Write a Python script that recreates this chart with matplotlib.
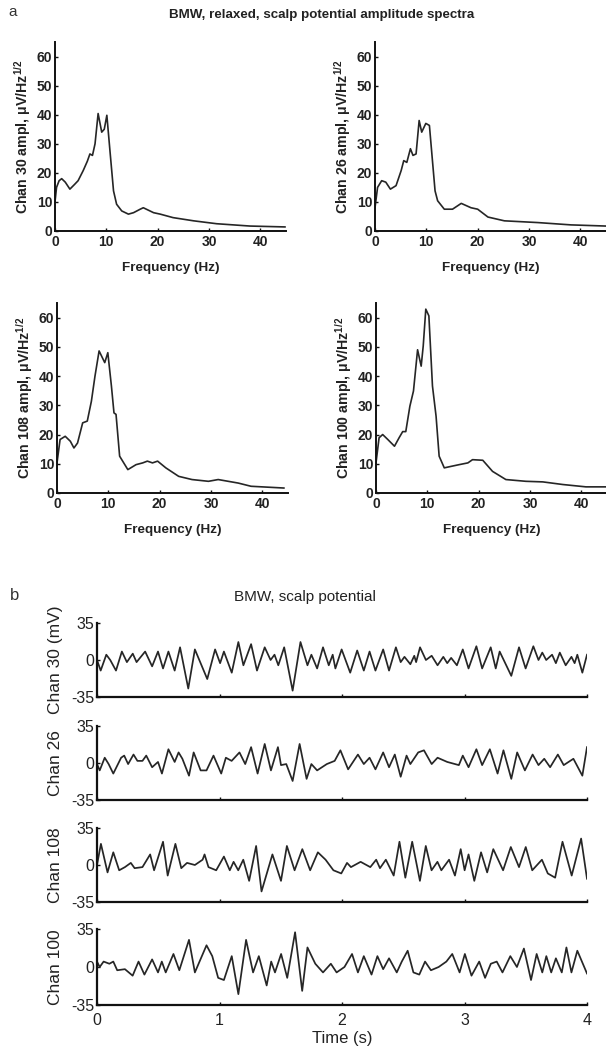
import numpy as np
import matplotlib
matplotlib.use("Agg")
import matplotlib.pyplot as plt

plt.rcParams["font.family"] = ["Liberation Sans", "DejaVu Sans"]
plt.rcParams["mathtext.fontset"] = "custom"
plt.rcParams["mathtext.rm"] = "Liberation Sans:bold"
plt.rcParams["mathtext.default"] = "rm"
plt.rcParams["axes.unicode_minus"] = False

W, H = 606, 1048
LINE = "#262626"

# ---- panel a: amplitude spectra (frequency in Hz, amplitude in uV/Hz^1/2)
spec_titles = ["30", "26", "108", "100"]

freq_30 = [0.0, 0.3, 0.8, 1.3, 2.0, 2.9, 3.8, 4.5, 5.5, 6.3, 6.8, 7.3, 7.8, 8.4, 9.1, 9.6, 10.1,
           10.7, 11.4, 12.0, 13.0, 14.3, 15.3, 16.6, 17.2, 19.2, 20.5, 23.0, 27.0, 31.5, 38.0, 44.8]
ampl_30 = [10.0, 15.0, 17.3, 18.0, 16.8, 14.4, 16.0, 17.3, 20.8, 24.0, 26.5, 26.0, 30.0, 40.4, 34.0, 35.0, 39.8,
           27.7, 13.8, 9.2, 6.9, 5.8, 6.3, 7.5, 8.0, 6.3, 5.8, 4.6, 3.5, 2.5, 1.7, 1.4]

freq_26 = [0.0, 0.5, 1.3, 2.1, 3.0, 4.1, 5.1, 5.6, 6.2, 6.9, 7.4, 8.0, 8.6, 9.1, 9.9, 10.6,
           11.2, 11.7, 12.2, 13.5, 15.1, 16.8, 18.7, 20.0, 22.0, 25.2, 31.7, 38.2, 45.0]
ampl_26 = [8.0, 15.0, 17.3, 16.8, 14.4, 15.6, 20.8, 24.2, 23.6, 28.3, 26.0, 26.5, 38.0, 34.0, 37.0, 36.3,
           24.0, 13.8, 10.4, 7.5, 7.5, 9.5, 8.0, 7.5, 4.8, 3.5, 2.9, 2.1, 1.7]

freq_108 = [0.0, 0.6, 1.6, 2.6, 3.3, 4.0, 5.0, 5.9, 6.7, 7.4, 8.2, 9.3, 9.9, 10.6, 11.1, 11.5,
            12.2, 13.8, 15.4, 16.7, 17.6, 18.6, 19.6, 21.2, 23.7, 26.3, 29.5, 31.4, 35.3, 37.8, 44.2]
ampl_108 = [10.3, 18.3, 19.4, 17.7, 15.4, 17.1, 24.0, 24.6, 31.4, 40.0, 48.6, 44.6, 48.0, 36.6, 27.4, 26.9,
            12.6, 8.0, 9.7, 10.3, 10.9, 10.3, 10.9, 8.6, 5.7, 4.6, 4.0, 4.6, 3.4, 2.3, 1.7]

freq_100 = [0.0, 0.6, 1.3, 2.3, 3.6, 4.5, 5.2, 5.8, 6.6, 7.3, 8.1, 8.8, 9.2, 9.7, 10.3, 11.0,
            11.7, 12.3, 13.3, 14.6, 16.2, 17.9, 18.8, 20.8, 22.7, 25.3, 29.2, 32.5, 36.4, 40.9, 44.8]
ampl_100 = [10.3, 18.9, 20.0, 18.3, 16.0, 18.9, 21.0, 21.0, 29.7, 34.9, 49.0, 43.4, 50.3, 62.9, 60.6, 36.6,
            26.3, 12.6, 8.6, 9.1, 9.7, 10.3, 11.4, 11.2, 7.4, 4.6, 4.0, 3.8, 2.9, 2.1, 2.1]

# ---- panel b: scalp potential traces (time in s, potential in mV)
trace_names = ["Chan 30 (mV)", "Chan 26", "Chan 108", "Chan 100"]

t_30 = [0.0, 0.03, 0.076, 0.108, 0.155, 0.203, 0.244, 0.292, 0.323, 0.393, 0.45, 0.498, 0.539, 0.583,
        0.634, 0.678, 0.745, 0.799, 0.90, 0.964, 1.005, 1.036, 1.10, 1.154, 1.195, 1.258, 1.306, 1.369,
        1.417, 1.449, 1.48, 1.528, 1.597, 1.661, 1.718, 1.75, 1.797, 1.845, 1.892, 1.924, 1.946, 1.997,
        2.067, 2.124, 2.178, 2.225, 2.273, 2.336, 2.384, 2.44, 2.479, 2.51, 2.558, 2.59, 2.605, 2.637,
        2.685, 2.732, 2.78, 2.827, 2.859, 2.891, 2.938, 2.986, 3.033, 3.097, 3.144, 3.214, 3.255, 3.287,
        3.382, 3.445, 3.499, 3.562, 3.604, 3.635, 3.667, 3.715, 3.746, 3.778, 3.826, 3.873, 3.899,
        3.921, 3.962, 4.0]
v_30 = [0, -10, 5, 0, -10, 8, -2, 6, -2, 8, -6, 8, -8, 8,
        -10, 12, -27, 10, -18, 10, -3, 8, -12, 17, -5, 15, -10, 12,
        0, 5, -5, 12, -29, 17, -5, 5, -8, 12, -5, 5, -8, 10,
        -12, 9, -10, 8, -10, 10, -10, 12, -2, 3, -4, 4, -2, 12,
        0, 4, -5, 3, -3, 2, -5, 10, -8, 13, -8, 12, -8, 8,
        -15, 12, -8, 13, 0, 7, 0, 5, -3, 7, -5, 3, -3,
        5, -12, 5]

t_26 = [0.0, 0.022, 0.063, 0.095, 0.133, 0.197, 0.222, 0.254, 0.298, 0.330, 0.371, 0.402, 0.45, 0.498,
        0.53, 0.583, 0.634, 0.666, 0.697, 0.751, 0.789, 0.846, 0.894, 0.951, 1.014, 1.052, 1.099,
        1.163, 1.21, 1.258, 1.311, 1.369, 1.42, 1.477, 1.502, 1.545, 1.597, 1.654, 1.711, 1.75, 1.797,
        1.876, 1.94, 1.987, 2.05, 2.13, 2.178, 2.225, 2.273, 2.336, 2.384, 2.431, 2.479, 2.527, 2.558,
        2.622, 2.669, 2.732, 2.78, 2.859, 2.954, 2.986, 3.033, 3.097, 3.144, 3.207, 3.27, 3.318, 3.382,
        3.43, 3.493, 3.556, 3.604, 3.651, 3.699, 3.762, 3.81, 3.889, 3.962, 4.0]
v_26 = [-1, -7, 5, -1, -10, 5, 7, -1, 8, 2, 2, 7, -4, 1,
        -10, 13, 1, 10, 4, -12, 10, -7, -7, 7, -10, 5, 2,
        10, -1, 15, -10, 18, -7, 15, -2, -1, -17, 18, -15, -1, -7,
        -1, 2, 12, -6, 8, -1, 5, -6, 10, -4, 8, -13, 7, -1,
        10, 12, -1, 5, 1, -2, 7, -4, 13, -2, 13, -10, 12, -15,
        10, -7, 8, -2, 4, -4, 8, -2, 4, -12, 15]

t_108 = [0.0, 0.032, 0.086, 0.133, 0.181, 0.228, 0.276, 0.307, 0.371, 0.434, 0.466, 0.539, 0.577,
         0.640, 0.688, 0.735, 0.799, 0.862, 0.878, 0.910, 0.973, 1.036, 1.084, 1.115, 1.153, 1.194,
         1.242, 1.299, 1.343, 1.432, 1.502, 1.55, 1.613, 1.676, 1.74, 1.803, 1.866, 1.93, 1.994, 2.041,
         2.073, 2.152, 2.231, 2.279, 2.31, 2.358, 2.422, 2.469, 2.517, 2.573, 2.636, 2.684, 2.731,
         2.779, 2.811, 2.874, 2.922, 2.969, 3.001, 3.033, 3.080, 3.135, 3.185, 3.235, 3.315, 3.378,
         3.445, 3.5, 3.553, 3.632, 3.68, 3.74, 3.80, 3.875, 3.952, 4.0]
v_108 = [0, 20, -7, 12, -5, -2, 2, -3, -2, 10, -5, 22, -10,
         20, -3, 2, 0, 5, 10, -2, -5, 8, -5, 3, -5, 5,
         -15, 18, -25, 10, -15, 18, -5, 15, -5, 12, 5, -5, -8, 2,
         -2, 3, -2, 5, -3, 5, -10, 22, -12, 22, -15, 18, -5,
         3, -5, 5, -10, 15, -5, 10, -15, 12, -7, 15, -5, 17,
         -2, 17, -5, 5, -8, -12, 22, -10, 25, -13]

t_100 = [0.0, 0.022, 0.054, 0.101, 0.133, 0.165, 0.228, 0.291, 0.339, 0.387, 0.45, 0.498, 0.529,
         0.561, 0.624, 0.672, 0.751, 0.799, 0.894, 0.941, 0.989, 1.036, 1.1, 1.154, 1.217, 1.274,
         1.321, 1.385, 1.422, 1.453, 1.503, 1.553, 1.617, 1.675, 1.718, 1.782, 1.845, 1.909, 1.956,
         2.02, 2.082, 2.13, 2.178, 2.241, 2.289, 2.336, 2.384, 2.447, 2.488, 2.536, 2.583, 2.631,
         2.678, 2.726, 2.789, 2.852, 2.9, 2.96, 3.003, 3.057, 3.12, 3.168, 3.215, 3.263, 3.31,
         3.374, 3.428, 3.485, 3.543, 3.589, 3.635, 3.668, 3.708, 3.746, 3.794, 3.832, 3.873, 3.921, 4.0]
v_100 = [5, 0, 5, 3, 5, -3, -2, -8, 5, -7, 7, -5, 5,
         -5, 12, -3, 25, -5, 20, 10, -10, -12, 10, -25, 25, -5,
         10, -17, 5, -5, 12, -10, 32, -22, 18, 3, -5, 3, -5,
         0, 12, -5, 10, -7, 10, -2, 8, -5, 5, 15, -5, -7,
         5, -3, 0, 5, 12, -5, 12, -8, 5, -10, 3, 5, -5,
         10, 0, 17, -12, 12, -5, 10, -5, 8, -5, 18, -5, 15, -6]


def px_axes(fig, left, top, right, bottom):
    return fig.add_axes([left / W, 1 - bottom / H, (right - left) / W, (bottom - top) / H])


def style_axes(ax, lw=1.4):
    for side in ("top", "right"):
        ax.spines[side].set_visible(False)
    for side in ("left", "bottom"):
        ax.spines[side].set_linewidth(lw)
        ax.spines[side].set_color("#111111")
    ax.tick_params(direction="in", length=2.5, width=1.0, colors="#111111", pad=2)


fig = plt.figure(figsize=(W / 100, H / 100), dpi=100)

# ---- part a
spec_boxes = [(55, 42, 286, 231), (375, 42, 606, 231), (57, 303, 288, 493), (376, 303, 607, 493)]
spec_data = [(freq_30, ampl_30), (freq_26, ampl_26), (freq_108, ampl_108), (freq_100, ampl_100)]

for box, name, (f, a) in zip(spec_boxes, spec_titles, spec_data):
    ax = px_axes(fig, *box)
    ax.plot(f, a, color=LINE, lw=1.2)
    ax.set_xlim(0, 45)
    ax.set_ylim(0, 65)
    ax.set_xticks([0, 10, 20, 30, 40])
    ax.set_yticks([0, 10, 20, 30, 40, 50, 60])
    style_axes(ax)
    ax.tick_params(axis="x", pad=3)
    for lab in ax.get_xticklabels() + ax.get_yticklabels():
        lab.set_fontweight("bold")
        lab.set_fontsize(10)
        lab.set_color("#222222")
    ax.set_xlabel("Frequency (Hz)", labelpad=9, fontweight="bold", fontsize=9.7, color="#222222")
    ax.set_ylabel("Chan %s ampl, \u03bcV/Hz$^{1/2}$" % name, labelpad=3,
                  fontweight="bold", fontsize=10.2, color="#222222")
    ax.patch.set_alpha(0)

fig.text(8 / W, 1 - 12 / H, "a", fontsize=11, va="center", ha="left", color="#333333")
fig.text(322 / W, 1 - 15 / H, "BMW, relaxed, scalp potential amplitude spectra",
         ha="center", va="center", fontweight="bold", fontsize=9.6, color="#222222")

# ---- part b
trace_boxes = [(97, 623, 587, 697), (97, 726, 587, 800), (97, 828, 587, 902), (97, 929, 587, 1005)]
trace_data = [(t_30, v_30), (t_26, v_26), (t_108, v_108), (t_100, v_100)]

for i, (box, name, (t, v)) in enumerate(zip(trace_boxes, trace_names, trace_data)):
    ax = px_axes(fig, *box)
    ax.plot(t, v, color=LINE, lw=1.25)
    ax.set_xlim(0, 4)
    ax.set_ylim(-35, 35)
    ax.set_xticks([0, 1, 2, 3, 4])
    ax.set_yticks([-35, 0, 35])
    style_axes(ax, lw=1.6)
    ax.tick_params(labelsize=11.5, labelcolor="#222222")
    ax.tick_params(axis="x", pad=6)
    ax.set_ylabel(name, fontsize=12.5, labelpad=6, color="#222222")
    if i < 3:
        ax.set_xticklabels([])
    else:
        ax.set_xlabel("Time (s)", fontsize=12, labelpad=2, color="#222222")
    ax.patch.set_alpha(0)

fig.text(10 / W, 1 - 595 / H, "b", fontsize=12, va="center", ha="left", color="#333333")
fig.text(305 / W, 1 - 597 / H, "BMW, scalp potential", ha="center", va="center",
         fontsize=11, color="#222222")

fig.savefig("out.png", dpi=100)
